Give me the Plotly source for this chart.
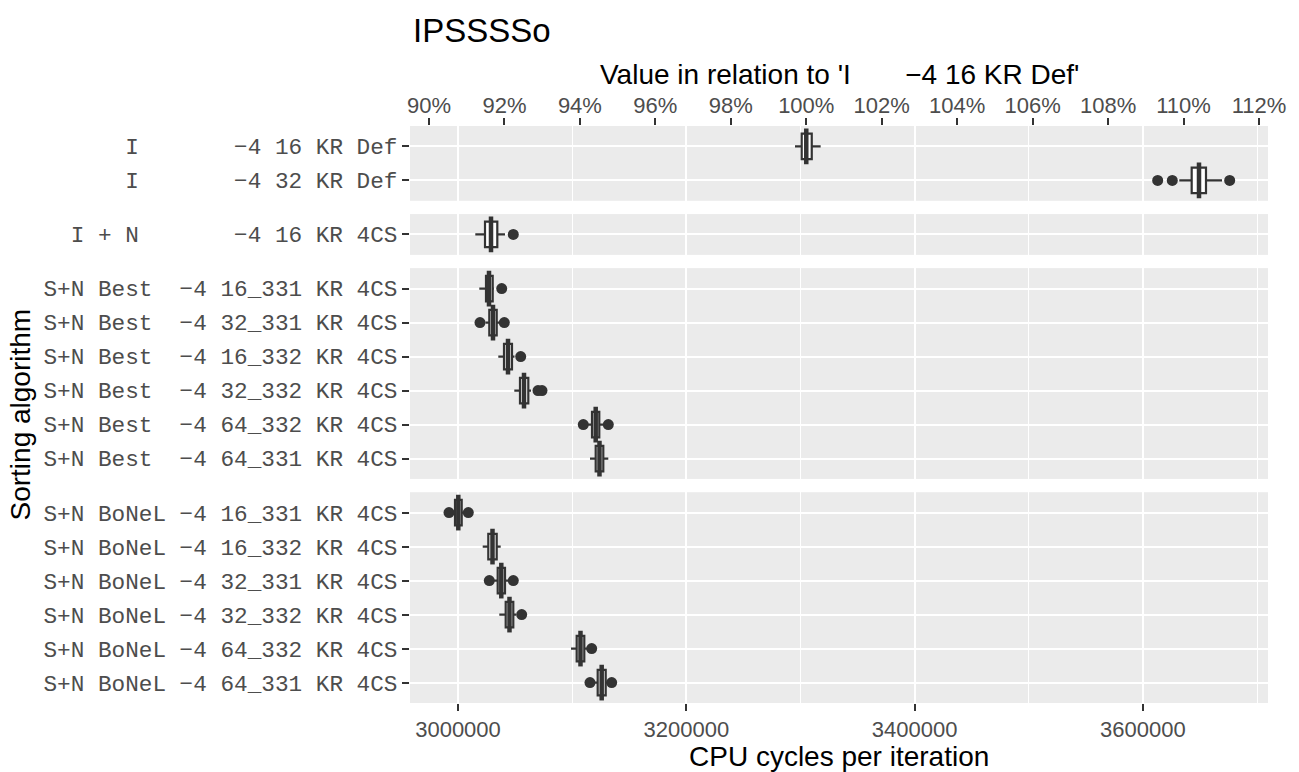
import plotly.graph_objects as go

# ---------------- data ----------------
panel1 = ["I       −4 16 KR Def", "I       −4 32 KR Def"]
panel2 = ["I + N       −4 16 KR 4CS"]
panel3 = ["S+N Best  −4 16_331 KR 4CS", "S+N Best  −4 32_331 KR 4CS",
          "S+N Best  −4 16_332 KR 4CS", "S+N Best  −4 32_332 KR 4CS",
          "S+N Best  −4 64_332 KR 4CS", "S+N Best  −4 64_331 KR 4CS"]
panel4 = ["S+N BoNeL −4 16_331 KR 4CS", "S+N BoNeL −4 16_332 KR 4CS",
          "S+N BoNeL −4 32_331 KR 4CS", "S+N BoNeL −4 32_332 KR 4CS",
          "S+N BoNeL −4 64_332 KR 4CS", "S+N BoNeL −4 64_331 KR 4CS"]
panels = [panel1, panel2, panel3, panel4]

lower = [[3295200, 3631880], [3015160],
         [3018660, 3024000, 3035300, 3049320, 3113000, 3115630],
         [2995000, 3021640, 3031000, 3036180, 3098990, 3119000]]
q1 = [[3301100, 3642750], [3023650],
      [3024530, 3027420, 3040300, 3054310, 3117390, 3120630],
      [2997370, 3026540, 3034780, 3041790, 3103980, 3122380]]
median = [[3305100, 3649150], [3028910],
          [3027160, 3030660, 3043800, 3057820, 3120630, 3123950],
          [3000260, 3030220, 3037930, 3045110, 3107310, 3125880]]
q3 = [[3309900, 3655280], [3034430],
      [3030400, 3033900, 3047300, 3061590, 3123780, 3127290],
      [3003240, 3033900, 3041170, 3048440, 3110640, 3129390]]
upper = [[3317700, 3669300], [3041170],
         [3031500, 3036000, 3049500, 3064000, 3127500, 3131670],
         [3005500, 3037410, 3044500, 3051000, 3113000, 3132000]]
outliers = [[[], [3612960, 3625750, 3676040]], [[3048440]],
            [[3038280], [3019270, 3040560], [3054930], [3070080, 3073590],
             [3109760, 3131670], []],
            [[2992120, 3009020], [], [3027420, 3048440], [3055800], [3117120],
             [3115630, 3134640]]]

x_major_ticks = [3000000, 3200000, 3400000, 3600000]
pct_ticks = [90, 92, 94, 96, 98, 100, 102, 104, 106, 108, 110, 112]
x_range = [2957950, 3709600]

reference = median[0][0]  # 'I −4 16 KR Def' is the 100% reference

# ---------------- layout geometry ----------------
W, H = 1299, 772
ML, MR, MT, MB = 410, 31, 126, 69
plot_h = H - MT - MB
plot_w = W - ML - MR
row_px = 34.0
heights = [(len(p) + 0.2) * row_px for p in panels]
gap = (plot_h - sum(heights)) / 3.0

domains = []
top = 0.0
for h in heights:
    d_top = 1 - top / plot_h
    d_bot = 1 - (top + h) / plot_h
    domains.append([max(0.0, d_bot), min(1.0, d_top)])
    top += h + gap

DARK = "#333333"
TICKCOL = "#4D4D4D"
fig = go.Figure()

for pi, cats in enumerate(panels):
    yname = "y" if pi == 0 else f"y{pi + 1}"
    for ci, cat in enumerate(cats):
        fig.add_trace(go.Box(
            y=[cat], q1=[q1[pi][ci]], median=[median[pi][ci]], q3=[q3[pi][ci]],
            lowerfence=[lower[pi][ci]], upperfence=[upper[pi][ci]],
            orientation="h", boxpoints=False, fillcolor="white",
            line=dict(color=DARK, width=2.2), whiskerwidth=0, width=0.75,
            xaxis="x", yaxis=yname, showlegend=False, hoverinfo="skip"))
    # fattened median line (ggplot style)
    fig.add_trace(go.Scatter(
        x=median[pi], y=cats, mode="markers", xaxis="x", yaxis=yname,
        marker=dict(symbol="line-ns", size=25.5, line=dict(width=4.5, color=DARK)),
        showlegend=False, hoverinfo="skip"))
    ox, oy = [], []
    for ci, cat in enumerate(cats):
        for v in outliers[pi][ci]:
            ox.append(v)
            oy.append(cat)
    if ox:
        fig.add_trace(go.Scatter(
            x=ox, y=oy, mode="markers", xaxis="x", yaxis=yname,
            marker=dict(symbol="circle", size=11, color=DARK),
            showlegend=False, hoverinfo="skip"))

# invisible trace for the secondary (percentage) axis
fig.add_trace(go.Scatter(x=[100], y=[panel1[0]], xaxis="x2", yaxis="y",
                         mode="markers", marker=dict(opacity=0),
                         showlegend=False, hoverinfo="skip"))

nb = lambda s: s.replace(" ", "\u00a0")

layout = dict(
    width=W, height=H, margin=dict(l=ML, r=MR, t=MT, b=MB, pad=0),
    paper_bgcolor="white", plot_bgcolor="#EBEBEB",
    xaxis=dict(range=x_range, anchor="y4", tickmode="array",
               tickvals=x_major_ticks, ticktext=[str(v) for v in x_major_ticks],
               showgrid=True, gridcolor="white", gridwidth=2, zeroline=False,
               ticks="outside", ticklen=7, tickwidth=2, tickcolor=DARK,
               tickfont=dict(family="Liberation Sans, Arial", size=22, color=TICKCOL),
               minor=dict(dtick=100000, tick0=3000000, showgrid=True,
                          gridcolor="white", gridwidth=1, ticks=""),
               showline=False),
    xaxis2=dict(range=[x_range[0] / reference * 100, x_range[1] / reference * 100],
                overlaying="x", side="top", anchor="y", tickmode="array",
                tickvals=pct_ticks, ticktext=[f"{v}%" for v in pct_ticks],
                showgrid=False, zeroline=False, ticks="outside", ticklen=7,
                tickwidth=2, tickcolor=DARK, ticklabelstandoff=-4,
                tickfont=dict(family="Liberation Sans, Arial", size=22, color=TICKCOL),
                showline=False),
)
for pi, cats in enumerate(panels):
    key = "yaxis" if pi == 0 else f"yaxis{pi + 1}"
    n = len(cats)
    layout[key] = dict(domain=domains[pi], type="category",
                       categoryorder="array", categoryarray=cats,
                       range=[n - 0.4, -0.6], anchor="x",
                       tickmode="array", tickvals=cats, ticktext=[nb(c) for c in cats],
                       showgrid=True, gridcolor="white", gridwidth=2, zeroline=False,
                       ticks="outside", ticklen=7, tickwidth=2, tickcolor=DARK,
                       tickfont=dict(family="Liberation Mono, monospace", size=22.7,
                                     color=TICKCOL),
                       showline=False, fixedrange=True)
fig.update_layout(**layout)

def py(ypx):
    return (H - MB - ypx) / plot_h

def px(xpx):
    return (xpx - ML) / plot_w

fig.add_annotation(text="IPSSSSo", xref="paper", yref="paper", x=px(411), y=py(30),
                   xanchor="left", yanchor="middle", showarrow=False,
                   font=dict(family="Liberation Sans, Arial", size=33, color="black"))
fig.add_annotation(text=nb("Value in relation to 'I       −4 16 KR Def'"),
                   xref="paper", yref="paper", x=0.5, y=py(74),
                   xanchor="center", yanchor="middle", showarrow=False,
                   font=dict(family="Liberation Sans, Arial", size=28, color="black"))
fig.add_annotation(text="CPU cycles per iteration", xref="paper", yref="paper",
                   x=0.5, y=py(756), xanchor="center", yanchor="middle",
                   showarrow=False,
                   font=dict(family="Liberation Sans, Arial", size=28, color="black"))
fig.add_annotation(text="Sorting algorithm", xref="paper", yref="paper",
                   x=px(20), y=0.5, xanchor="center", yanchor="middle",
                   textangle=-90, showarrow=False,
                   font=dict(family="Liberation Sans, Arial", size=28, color="black"))

fig.write_html("out.html")
